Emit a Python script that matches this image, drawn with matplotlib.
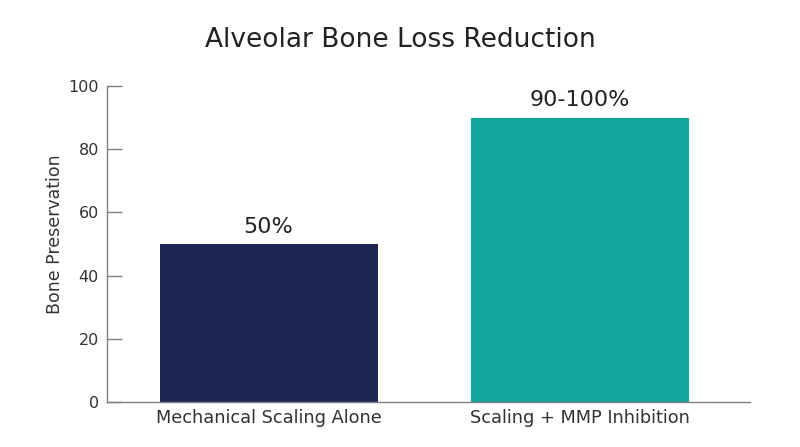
import numpy as np
import matplotlib.pyplot as plt

# chart values
categories = ["Mechanical Scaling Alone", "Scaling + MMP Inhibition"]
values = [50, 90]
bar_labels = ["50%", "90-100%"]
colors = ["#1e2753", "#12a79d"]
yticks = [0, 20, 40, 60, 80, 100]

plt.rcParams['font.family'] = ['DejaVu Sans']
text_color = "#333333"

fig = plt.figure(figsize=(8, 4.47), dpi=100)
ax = fig.add_axes([0.134, 0.1007, 0.8035, 0.707])

x = np.arange(len(categories))
ax.bar(x, values, width=0.7, color=colors)

# value labels sit a little above each bar
for xi, v, lab in zip(x, values, bar_labels):
  ax.annotate(lab, (xi, v), xytext=(0, 8), textcoords="offset points",
              ha="center", va="baseline", fontsize=16, color="#222222")

ax.set_xlim(-0.518, 1.546)
ax.set_ylim(0, 100)
ax.set_xticks(x)
ax.set_xticklabels(categories, fontsize=12.8, color=text_color)
ax.set_yticks(yticks)
ax.set_yticklabels([str(t) for t in yticks], fontsize=11.5, color=text_color)
ax.tick_params(axis="x", length=0, pad=5)
ax.tick_params(axis="y", direction="in", length=11, width=1, color="#808080", pad=6)

for s in ["top", "right"]:
  ax.spines[s].set_visible(False)
for s in ["left", "bottom"]:
  ax.spines[s].set_color("#808080")
  ax.spines[s].set_linewidth(1)

ax.set_ylabel("Bone Preservation", fontsize=12.5, color=text_color)
ax.yaxis.set_label_coords(-0.067, 0.53)
fig.suptitle("Alveolar Bone Loss Reduction", fontsize=19, color="#222222", y=0.94)

fig.savefig("out.png", dpi=100)
